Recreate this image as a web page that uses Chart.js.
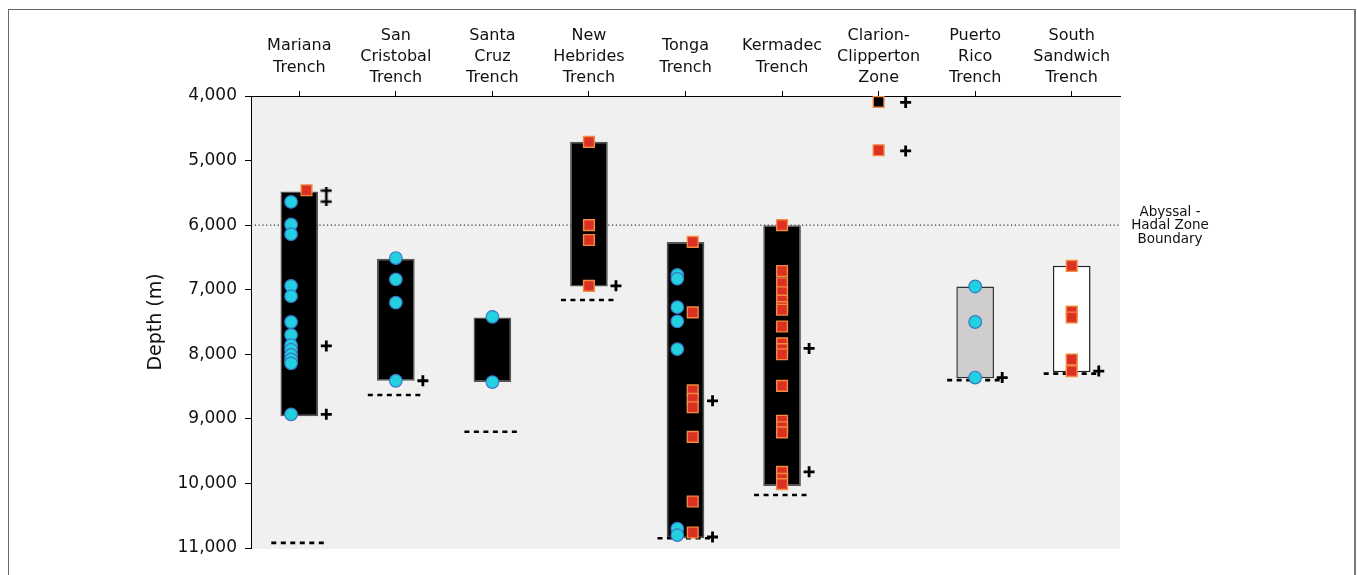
<!DOCTYPE html>
<html lang="en">
<head>
<meta charset="UTF-8">
<title>Trench depth ranges</title>
<style>
    body {
        margin: 0;
        background: #fff;
        font-family: "DejaVu Sans", sans-serif;
    }
    #frame {
        position: absolute;
        left: 8px;
        top: 9px;
        width: 1345px;
        height: 600px;
        border: 1px solid #666;
        border-right: 2px solid #777;
    }
    #wrap {
        position: absolute;
        left: 0;
        top: 0;
        width: 1357px;
        height: 575px;
    }
</style>
</head>
<body>
<div id="frame"></div>
<div id="wrap"><canvas id="chart" width="1357" height="575"></canvas></div>

<script src="https://cdn.jsdelivr.net/npm/chart.js"></script>
<script>
    // sites along the top axis
    const sites = [
        ['Mariana', 'Trench'],
        ['San', 'Cristobal', 'Trench'],
        ['Santa', 'Cruz', 'Trench'],
        ['New', 'Hebrides', 'Trench'],
        ['Tonga', 'Trench'],
        ['Kermadec', 'Trench'],
        ['Clarion-', 'Clipperton', 'Zone'],
        ['Puerto', 'Rico', 'Trench'],
        ['South', 'Sandwich', 'Trench']
    ];

    // depth range of the bars (m)
    const rangeTop    = [5480, 6520, 7430, 4710, 6260, 6000, null, 6950, 6630];
    const rangeBottom = [8960, 8410, 8430, 6950, 10850, 10040, null, 8370, 8280];

    // deepest point of each trench (dashed line)
    const maxDepth = [10920, 8630, 9200, 7160, 10850, 10180, null, 8400, 8300];

    // circle records
    const circleDepths = [
        [5640, 5990, 6140, 6940, 7100, 7500, 7700, 7860, 7930, 8010, 8080, 8140, 8930],
        [6510, 6840, 7200, 8410],
        [7420, 8430],
        [],
        [6770, 6830, 7270, 7490, 7920, 10700, 10800],
        [],
        [],
        [6950, 7500, 8360],
        []
    ];

    // square records
    const squareDepths = [
        [5460],
        [],
        [],
        [4710, 6000, 6230, 6940],
        [6260, 7350, 8560, 8690, 8820, 9280, 10280, 10760],
        [6000, 6710, 6900, 7040, 7170, 7270, 7310, 7570, 7830, 7920, 8000, 8490, 9030, 9130, 9210, 9820, 9930, 10010],
        [4840],
        [],
        [6630, 7340, 7430, 8080, 8260]
    ];

    // black-filled square records
    const darkSquareDepths = [[], [], [], [], [], [], [4090], [], []];

    // "+" and "‡" marks
    const plusDepths = [[7870, 8930], [8410], [], [6940], [8720, 10830], [7910, 9820], [4100, 4850], [8360], [8260]];
    const daggerDepths = [[5550], [], [], [], [], [], [], [], []];

    const yTicks = [4000, 5000, 6000, 7000, 8000, 9000, 10000, 11000];
    const boundaryDepth = 6000;
    const boundaryLabel = ['Abyssal -', 'Hadal Zone', 'Boundary'];

    const FONT = '"DejaVu Sans", Verdana, sans-serif';
    const barColors = ['#000', '#000', '#000', '#000', '#000', '#000', '#000', '#cfcdce', '#ffffff'];
    const barBorders = ['#555', '#555', '#555', '#555', '#555', '#555', '#555', '#333', '#222'];

    // point lists on the linear helper axis
    function pointsFrom(lists, shift) {
        const pts = [];
        lists.forEach(function(list, i) {
            const dx = typeof shift === 'function' ? shift(i) : shift;
            list.forEach(function(d) { pts.push({x: i + dx, y: d}); });
        });
        return pts;
    }
    const both = function(i) { return circleDepths[i].length > 0 && squareDepths[i].length > 0; };

    const dashPts = [];
    maxDepth.forEach(function(d, i) {
        if (d == null) return;
        dashPts.push({x: i - 0.29, y: d}, {x: i + 0.29, y: d}, {x: i + 0.3, y: null});
    });

    // double dagger glyph as a point style
    const dagger = document.createElement('canvas');
    dagger.width = 12; dagger.height = 19;
    (function() {
        const c = dagger.getContext('2d');
        c.strokeStyle = '#000';
        c.lineWidth = 2.6;
        c.beginPath();
        c.moveTo(6, 0); c.lineTo(6, 19);
        c.moveTo(0.5, 4); c.lineTo(11.5, 4);
        c.moveTo(0.5, 15); c.lineTo(11.5, 15);
        c.stroke();
    })();

    const plotBackground = {
        id: 'plotBackground',
        beforeDraw: function(chart) {
            const a = chart.chartArea, ctx = chart.ctx;
            ctx.save();
            ctx.fillStyle = '#f0f0f0';
            ctx.fillRect(a.left, a.top, a.right - a.left, a.bottom - a.top + 1);
            ctx.restore();
        },
        afterDraw: function(chart) {
            const ctx = chart.ctx;
            const y = chart.scales.y.getPixelForValue(boundaryDepth);
            const x = chart.chartArea.right + 50;
            ctx.save();
            ctx.fillStyle = '#111';
            ctx.font = '13.5px ' + FONT;
            ctx.textAlign = 'center';
            ctx.textBaseline = 'middle';
            boundaryLabel.forEach(function(t, k) { ctx.fillText(t, x, y - 13 + k * 13.5); });
            ctx.restore();
        }
    };

    const ctx = document.getElementById('chart').getContext('2d');
    const chart = new Chart(ctx, {
        type: 'bar',
        data: {
            labels: sites,
            datasets: [
                {
                    type: 'line',
                    xAxisID: 'x2',
                    data: [{x: -0.5, y: boundaryDepth}, {x: 8.5, y: boundaryDepth}],
                    borderColor: '#333',
                    borderWidth: 1.2,
                    borderDash: [1.2, 2.6],
                    pointRadius: 0,
                    order: 10
                },
                {
                    data: rangeTop.map(function(t, i) { return t == null ? null : [t, rangeBottom[i]]; }),
                    backgroundColor: barColors,
                    borderColor: barBorders,
                    borderWidth: 1.5,
                    borderSkipped: false,
                    grouped: false,
                    categoryPercentage: 1,
                    barPercentage: 0.39,
                    order: 5
                },
                {
                    type: 'line',
                    xAxisID: 'x2',
                    data: dashPts,
                    borderColor: '#000',
                    borderWidth: 2.6,
                    borderDash: [5, 4.5],
                    pointRadius: 0,
                    spanGaps: false,
                    order: 4
                },
                {
                    type: 'scatter',
                    xAxisID: 'x2',
                    data: pointsFrom(circleDepths, function(i) { return both(i) ? -0.085 : 0; }),
                    pointStyle: 'circle',
                    pointRadius: 6.3,
                    backgroundColor: '#22d0e0',
                    borderColor: '#3a78c6',
                    borderWidth: 1.2,
                    order: 2
                },
                {
                    type: 'scatter',
                    xAxisID: 'x2',
                    data: pointsFrom(squareDepths, function(i) { return both(i) ? 0.075 : 0; }),
                    pointStyle: 'rect',
                    pointRadius: 7.6,
                    backgroundColor: '#dc3122',
                    borderColor: '#f28a40',
                    borderWidth: 1.4,
                    order: 1
                },
                {
                    type: 'scatter',
                    xAxisID: 'x2',
                    data: pointsFrom(darkSquareDepths, 0),
                    pointStyle: 'rect',
                    pointRadius: 7.6,
                    backgroundColor: '#000',
                    borderColor: '#f28a40',
                    borderWidth: 1.4,
                    order: 1
                },
                {
                    type: 'scatter',
                    xAxisID: 'x2',
                    data: pointsFrom(plusDepths, 0.28),
                    pointStyle: 'cross',
                    pointRadius: 5.5,
                    borderColor: '#000',
                    borderWidth: 2.8,
                    order: 0
                },
                {
                    type: 'scatter',
                    xAxisID: 'x2',
                    data: pointsFrom(daggerDepths, 0.28),
                    pointStyle: dagger,
                    order: 0
                }
            ]
        },
        options: {
            responsive: false,
            animation: false,
            events: [],
            layout: {
                padding: {left: 140, right: 237, top: 20, bottom: 27}
            },
            plugins: {
                legend: {display: false},
                tooltip: {enabled: false}
            },
            scales: {
                x: {
                    position: 'top',
                    offset: true,
                    afterFit: function(s) { s.height = 76; },
                    grid: {offset: false, drawOnChartArea: false, tickLength: 5, color: '#000'},
                    border: {color: '#000', width: 1},
                    ticks: {
                        color: '#111',
                        font: {family: FONT, size: 16, lineHeight: 1.32},
                        maxRotation: 0,
                        autoSkip: false,
                        crossAlign: 'center',
                        padding: 13
                    }
                },
                x2: {
                    type: 'linear',
                    display: false,
                    offset: false,
                    grid: {offset: false},
                    min: -0.5,
                    max: 8.5
                },
                y: {
                    reverse: true,
                    min: yTicks[0],
                    max: yTicks[yTicks.length - 1],
                    afterFit: function(s) { s.width = 111; },
                    afterBuildTicks: function(s) { s.ticks = yTicks.map(function(v) { return {value: v}; }); },
                    grid: {drawOnChartArea: false, tickLength: 6, color: '#000'},
                    border: {color: '#000', width: 1},
                    ticks: {
                        color: '#111',
                        font: {family: FONT, size: 17},
                        padding: 8,
                        callback: function(v) { return v.toLocaleString('en-US'); }
                    },
                    title: {
                        display: true,
                        text: 'Depth (m)',
                        color: '#111',
                        font: {family: FONT, size: 19},
                        padding: {top: 5, bottom: 0}
                    }
                }
            }
        },
        plugins: [plotBackground]
    });
</script>
</body>
</html>
